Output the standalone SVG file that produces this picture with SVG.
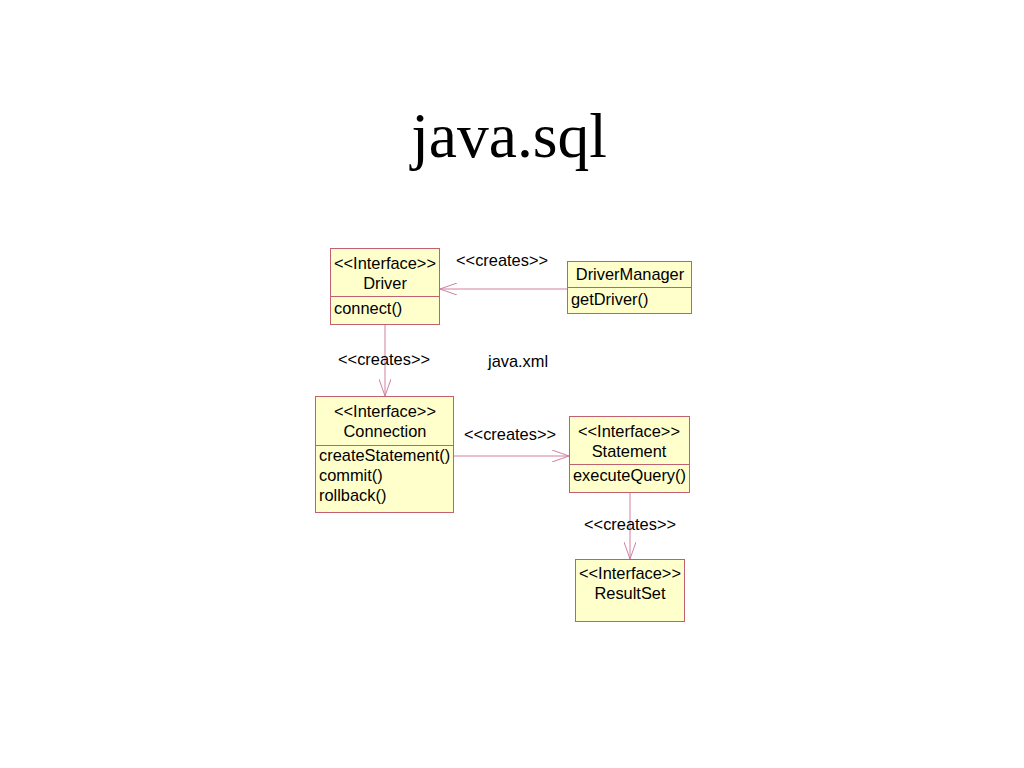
<svg xmlns="http://www.w3.org/2000/svg" width="1024" height="768" viewBox="0 0 1024 768">
<style>
.box{fill:#FFFFCC;stroke:#C06070;stroke-width:1}
.div{stroke:#C06070;stroke-width:1}
.t{font-family:"Liberation Sans",Arial,sans-serif;font-size:16.4px;fill:#000}
.c{text-anchor:middle}
.conn{stroke:#D080A0;stroke-width:1;fill:none}
</style>
<defs>
<marker id="open" markerWidth="18" markerHeight="12" refX="17" refY="6" orient="auto" markerUnits="userSpaceOnUse">
<path d="M0,0 L17,6 L0,12" fill="none" stroke="#D080A0" stroke-width="1"/>
</marker>
</defs>
<rect width="1024" height="768" fill="#fff"/>
<text x="509" y="157" text-anchor="middle" font-family="'Liberation Serif','Times New Roman',serif" font-size="63.5">java.sql</text>
<text class="t" x="488" y="367">java.xml</text>
<g id="connectors">
<line class="conn" x1="567" y1="289" x2="440" y2="289" marker-end="url(#open)"/>
<line class="conn" x1="385" y1="324" x2="385" y2="396" marker-end="url(#open)"/>
<line class="conn" x1="453" y1="456" x2="569" y2="456" marker-end="url(#open)"/>
<line class="conn" x1="630" y1="492" x2="630" y2="559" marker-end="url(#open)"/>
<text class="t" x="456" y="266">&lt;&lt;creates&gt;&gt;</text>
<text class="t" x="338" y="365">&lt;&lt;creates&gt;&gt;</text>
<text class="t" x="464" y="440">&lt;&lt;creates&gt;&gt;</text>
<text class="t" x="584" y="530">&lt;&lt;creates&gt;&gt;</text>
</g>
<g id="driver">
<rect class="box" x="330.5" y="248.5" width="109" height="76"/>
<line class="div" x1="330.5" y1="296.5" x2="439.5" y2="296.5"/>
<text class="t c" x="385" y="269">&lt;&lt;Interface&gt;&gt;</text>
<text class="t c" x="385" y="289">Driver</text>
<text class="t" x="334" y="314">connect()</text>
</g>
<g id="drivermanager">
<rect class="box" x="567.5" y="261.5" width="124" height="52"/>
<line class="div" x1="567.5" y1="287.5" x2="691.5" y2="287.5"/>
<text class="t c" x="630" y="280">DriverManager</text>
<text class="t" x="571" y="305">getDriver()</text>
</g>
<g id="connection">
<rect class="box" x="315.5" y="396.5" width="138" height="116"/>
<line class="div" x1="315.5" y1="445.5" x2="453.5" y2="445.5"/>
<text class="t c" x="385" y="417">&lt;&lt;Interface&gt;&gt;</text>
<text class="t c" x="385" y="437">Connection</text>
<text class="t" x="319" y="461">createStatement()</text>
<text class="t" x="319" y="481">commit()</text>
<text class="t" x="319" y="501">rollback()</text>
</g>
<g id="statement">
<rect class="box" x="569.5" y="416.5" width="120" height="76"/>
<line class="div" x1="569.5" y1="464.5" x2="689.5" y2="464.5"/>
<text class="t c" x="629" y="437">&lt;&lt;Interface&gt;&gt;</text>
<text class="t c" x="629" y="457">Statement</text>
<text class="t" x="573" y="481">executeQuery()</text>
</g>
<g id="resultset">
<rect class="box" x="575.5" y="559.5" width="109" height="62"/>
<text class="t c" x="630" y="579">&lt;&lt;Interface&gt;&gt;</text>
<text class="t c" x="630" y="599">ResultSet</text>
</g>
</svg>
